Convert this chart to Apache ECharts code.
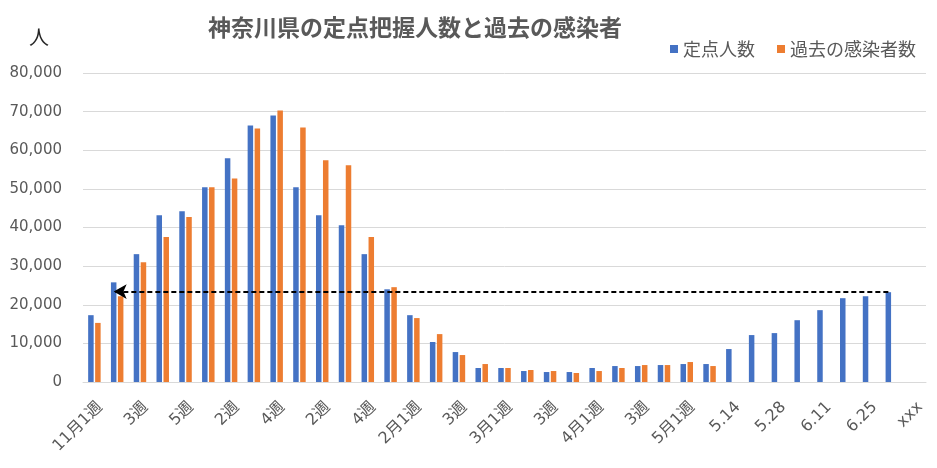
<!DOCTYPE html>
<html>
<head>
<meta charset="utf-8">
<script src="https://cdn.jsdelivr.net/npm/echarts@6/dist/echarts.min.js"></script>
<style>
html,body{margin:0;padding:0;background:#fff;}
#c{width:937px;height:468px;}
</style>
</head>
<body>
<div id="c"></div>
<script>
const categories = ['11月1週','','3週','','5週','','2週','','4週','','2週','','4週','','2月1週','','3週','','3月1週','','3週','','4月1週','','3週','','5月1週','','5.14','','5.28','','6.11','','6.25','','xxx'];
const teitenValues = [17300, 25800, 33100, 43150, 44200, 50400, 57900, 66400, 69000, 50400, 43150, 40600, 33100, 24000, 17300, 10350, 7750, 3620, 3620, 2840, 2580, 2580, 3620, 4130, 4130, 4390, 4650, 4650, 8530, 12150, 12660, 16000, 18600, 21700, 22200, 23250, null];
const kakoValues = [15300, 22200, 31000, 37550, 42700, 50400, 52700, 65600, 70300, 65900, 57400, 56100, 37550, 24550, 16550, 12400, 6980, 4650, 3620, 3100, 2840, 2330, 2840, 3620, 4390, 4390, 5170, 4130, null, null, null, null, null, null, null, null, null];
const arrowValue = 23400;
const arrowFrom = 35;
const arrowTo = 1;

const FONT = '"Noto Sans CJK JP", "Noto Sans", sans-serif';
const NUMFONT = '"DejaVu Sans", "Noto Sans CJK JP", sans-serif';
const chart = echarts.init(document.getElementById('c'), null, {renderer: 'canvas'});
chart.setOption({
  animation: false,
  backgroundColor: '#fff',
  title: {
    text: '神奈川県の定点把握人数と過去の感染者',
    left: 410, top: 11, textAlign: 'center',
    textStyle: {fontFamily: FONT, fontSize: 23, fontWeight: 'bold', color: '#595959'}
  },
  legend: {
    right: 16, top: 35,
    icon: 'rect', itemWidth: 8, itemHeight: 8, itemGap: 22,
    textStyle: {fontFamily: FONT, fontSize: 18, color: '#595959'},
    data: ['定点人数','過去の感染者数']
  },
  graphic: [{
    type: 'text', left: 29, top: 27,
    style: {text: '人', font: '20px "Noto Sans CJK JP"', fill: '#262626'}
  }],
  grid: {left: 83, right: 11, top: 73, bottom: 86},
  xAxis: {
    type: 'category',
    data: categories,
    axisLine: {lineStyle: {color: '#D9D9D9', width: 1}},
    axisTick: {show: false},
    axisLabel: {interval: 0, rotate: 45, margin: 17, verticalAlign: 'top',
      fontFamily: NUMFONT, fontSize: 16, color: '#595959'}
  },
  yAxis: {
    type: 'value', min: 0, max: 80000, interval: 10000,
    axisLine: {show: false}, axisTick: {show: false},
    splitLine: {lineStyle: {color: '#D9D9D9', width: 1}},
    axisLabel: {margin: 21, fontFamily: NUMFONT, fontSize: 15, color: '#595959',
      formatter: v => v.toLocaleString('en-US')}
  },
  series: [
    {
      name: '定点人数', type: 'bar', data: teitenValues,
      barWidth: 5.5, barGap: '27%',
      itemStyle: {color: '#4472C4'},
      markLine: {
        silent: true, symbol: ['none', 'arrow'], symbolSize: [11, 13],
        label: {show: false},
        lineStyle: {color: '#000', type: [5, 3], width: 2},
        data: [[{coord: [arrowFrom, arrowValue]}, {coord: [arrowTo, arrowValue]}]]
      }
    },
    {
      name: '過去の感染者数', type: 'bar', data: kakoValues,
      barWidth: 5.5,
      itemStyle: {color: '#ED7D31'}
    }
  ]
});
</script>
</body>
</html>
